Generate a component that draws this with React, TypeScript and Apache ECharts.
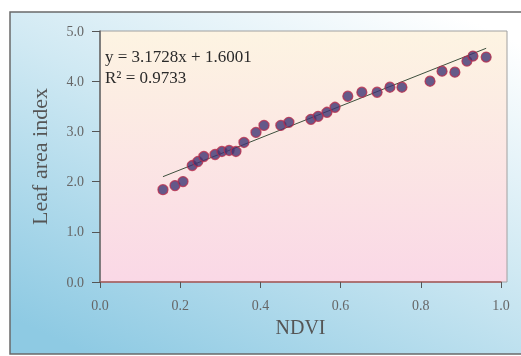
import React, { useEffect, useRef } from "react";
import * as echarts from "echarts";

const ndvi = [0.157, 0.187, 0.207, 0.23, 0.244, 0.259, 0.287, 0.304, 0.322, 0.339, 0.359, 0.389, 0.409, 0.451, 0.471, 0.526, 0.544, 0.566, 0.586, 0.618, 0.653, 0.691, 0.723, 0.753, 0.823, 0.853, 0.885, 0.915, 0.93, 0.963];
const lai = [1.84, 1.92, 2.0, 2.32, 2.4, 2.5, 2.54, 2.6, 2.62, 2.6, 2.78, 2.98, 3.12, 3.12, 3.18, 3.24, 3.3, 3.38, 3.48, 3.7, 3.78, 3.78, 3.88, 3.88, 4.0, 4.2, 4.18, 4.4, 4.5, 4.48];
const slope = 3.1728;
const intercept = 1.6001;
const rSquared = "0.9733";
const equationText = "y = 3.1728x + 1.6001";
const xTicks = [0, 0.2, 0.4, 0.6, 0.8, 1.0];
const yTicks = [0, 1, 2, 3, 4, 5];

const serif = "Liberation Serif";

export default function App() {
  const ref = useRef<HTMLDivElement>(null);
  useEffect(() => {
    if (!ref.current) return;
    const chart = echarts.init(ref.current, undefined, { renderer: "svg" });
    const xMin = Math.min(...ndvi);
    const xMax = Math.max(...ndvi);
    const trend = [
      [xMin, slope * xMin + intercept],
      [xMax, slope * xMax + intercept],
    ];
    chart.setOption({
      animation: false,
      graphic: [
        {
          type: "rect",
          z: -10,
          silent: true,
          shape: { x: 10, y: 12, width: 520, height: 342 },
          style: {
            fill: new echarts.graphic.LinearGradient(0.85, 0, 0.15, 1, [
              { offset: 0, color: "#ffffff" },
              { offset: 0.45, color: "#d0e9f3" },
              { offset: 1, color: "#8ecae3" },
            ]),
            stroke: "#6a6a6a",
            lineWidth: 1.5,
          },
        },
        {
          type: "rect",
          z: -9,
          silent: true,
          shape: { x: 100, y: 31, width: 407, height: 251 },
          style: {
            fill: new echarts.graphic.LinearGradient(0, 0, 0, 1, [
              { offset: 0, color: "#fdf4e2" },
              { offset: 1, color: "#fad8e6" },
            ]),
            stroke: "#a0a0a0",
            lineWidth: 1,
          },
        },
        {
          type: "text",
          left: 105,
          top: 48,
          style: { text: equationText, font: `17px "${serif}"`, fill: "#2a2a2a" },
        },
        {
          type: "text",
          left: 105,
          top: 69,
          style: { text: "R² = " + rSquared, font: `17px "${serif}"`, fill: "#2a2a2a" },
        },
      ],
      grid: { left: 100, top: 31, right: 20, bottom: 74 },
      xAxis: {
        type: "value",
        min: 0,
        max: 1,
        interval: 0.2,
        name: "NDVI",
        nameLocation: "middle",
        nameGap: 30,
        nameTextStyle: { fontFamily: serif, fontSize: 20, color: "#555" },
        axisLine: { show: true, lineStyle: { color: "#a85a5a", width: 1.5 } },
        axisTick: { show: true, inside: false, length: 6, lineStyle: { color: "#555" } },
        splitLine: { show: false },
        axisLabel: {
          fontFamily: serif,
          fontSize: 14,
          color: "#666",
          margin: 16,
          formatter: (v: number) => (xTicks.some((t) => Math.abs(t - v) < 1e-9) ? v.toFixed(1) : ""),
        },
      },
      yAxis: {
        type: "value",
        min: 0,
        max: 5,
        interval: 1,
        name: "Leaf area index",
        nameLocation: "middle",
        nameGap: 50,
        nameTextStyle: { fontFamily: serif, fontSize: 22, color: "#555" },
        axisLine: { show: true, lineStyle: { color: "#666", width: 1.5 } },
        axisTick: { show: true, inside: false, length: 8, lineStyle: { color: "#555" } },
        splitLine: { show: false },
        axisLabel: {
          fontFamily: serif,
          fontSize: 14,
          color: "#666",
          margin: 16,
          formatter: (v: number) => (yTicks.includes(v) ? v.toFixed(1) : ""),
        },
      },
      series: [
        {
          type: "line",
          data: trend,
          symbol: "none",
          lineStyle: { color: "#3d4f3d", width: 1 },
          z: 2,
        },
        {
          type: "scatter",
          data: ndvi.map((x, i) => [x, lai[i]]),
          symbolSize: 10,
          itemStyle: { color: "#3f3472", borderColor: "#b8304f", borderWidth: 1.3 },
          z: 3,
        },
      ],
    });
    return () => chart.dispose();
  }, []);
  return (
    <div
      ref={ref}
      style={{ position: "fixed", left: 0, top: 0, width: 521, height: 356 }}
    />
  );
}
